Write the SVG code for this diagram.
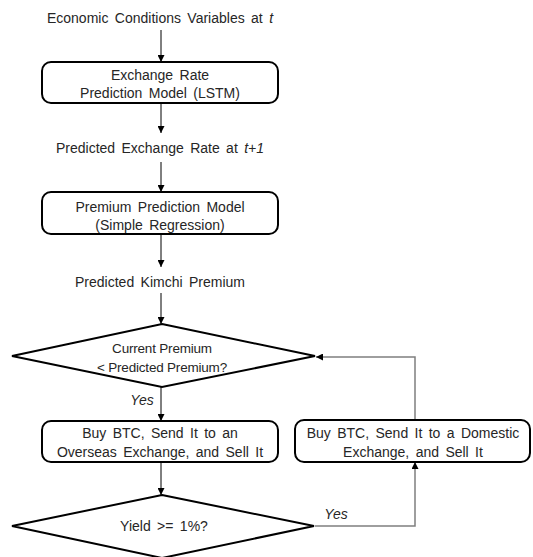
<svg xmlns="http://www.w3.org/2000/svg" width="533" height="557" viewBox="0 0 533 557">
<defs>
<marker id="ah" viewBox="0 0 10 10" refX="10" refY="5" markerWidth="7" markerHeight="7" markerUnits="userSpaceOnUse" orient="auto"><path d="M0,0 L10,5 L0,10 z" fill="#000"/></marker>
<style>
text{font-family:"Liberation Sans",Arial,sans-serif;font-size:14px;fill:#262626;text-anchor:middle;word-spacing:2.5px}
.box{fill:#fff;stroke:#000;stroke-width:2}
.dia{fill:#fff;stroke:#000;stroke-width:2}
.c{fill:none;stroke:#000;stroke-width:1;marker-end:url(#ah)}
.g{fill:none;stroke:#7f7f7f;stroke-width:1.5;marker-end:url(#ah)}
.i{font-style:italic}
.d{font-size:13.5px;letter-spacing:-0.2px;word-spacing:0}
</style>
</defs>
<rect width="533" height="557" fill="#fff"/>
<g id="connectors">
<path class="c" d="M161,30 V62"/>
<path class="c" d="M161,103 V133"/>
<path class="c" d="M161,162 V192"/>
<path class="c" d="M161,234 V267"/>
<path class="c" d="M161,293 V324"/>
<path class="c" d="M161,387 V421"/>
<path class="c" d="M161,462 V495"/>
<path class="g" d="M315,526 H415 V462"/>
<path class="g" d="M415,420 V357 H316"/>
</g>
<g id="input"><text x="160" y="23">Economic Conditions Variables at <tspan class="i">t</tspan></text></g>
<g id="lstm"><rect class="box" x="42" y="62" width="236" height="41" rx="9"/><text x="160" y="80">Exchange Rate</text><text x="160" y="98">Prediction Model (LSTM)</text></g>
<g id="predrate"><text x="160" y="153">Predicted Exchange Rate at <tspan class="i">t+1</tspan></text></g>
<g id="premmodel"><rect class="box" x="42" y="192" width="236" height="42" rx="9"/><text x="160" y="212">Premium Prediction Model</text><text x="160" y="229.5">(Simple Regression)</text></g>
<g id="predprem"><text x="160" y="287">Predicted Kimchi Premium</text></g>
<g id="cond1"><polygon class="dia" points="162,324 315,356 162,387 12,356"/><text class="d" x="162" y="353">Current Premium</text><text class="d" x="162" y="372">&lt; Predicted Premium?</text></g>
<g id="yes1"><text class="i" x="142" y="405">Yes</text></g>
<g id="overseas"><rect class="box" x="42" y="421" width="236" height="41" rx="9"/><text x="160" y="438">Buy BTC, Send It to an</text><text x="160" y="457">Overseas Exchange, and Sell It</text></g>
<g id="domestic"><rect class="box" x="295" y="420" width="235" height="42" rx="9"/><text x="413" y="438">Buy BTC, Send It to a Domestic</text><text x="413" y="457">Exchange, and Sell It</text></g>
<g id="cond2"><polygon class="dia" points="162,495 314,526 162,558 12,526"/><text x="164" y="531">Yield &gt;= 1%?</text></g>
<g id="yes2"><text class="i" x="336" y="519">Yes</text></g>
</svg>
